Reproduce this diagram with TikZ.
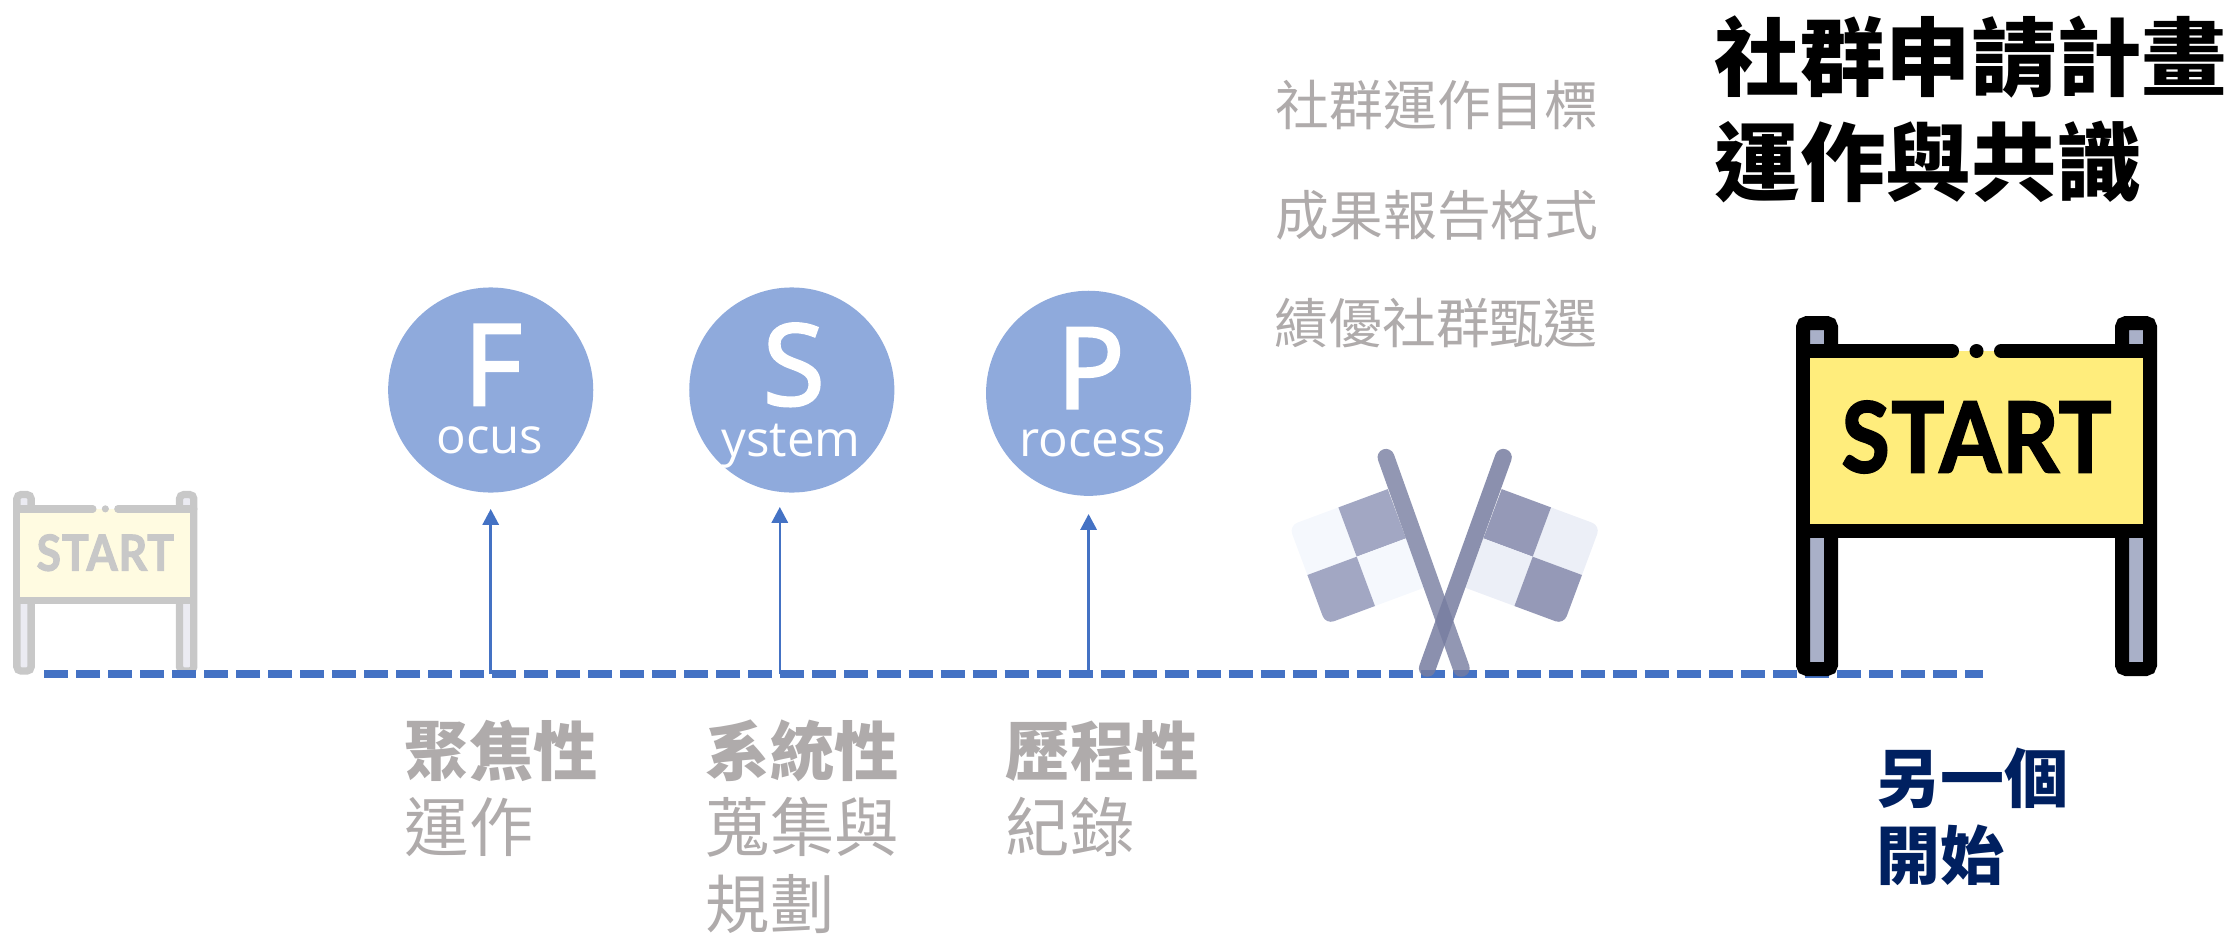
\documentclass[tikz,border=0pt]{standalone}
\usepackage{fontspec}
\usetikzlibrary{arrows.meta}
\setmainfont{Open Sans}
\newfontfamily\cjk{Noto Sans CJK TC}
\newfontfamily\signfont[LetterSpace=2,BoldFeatures={FakeBold=2.2}]{Lato}
\newfontfamily\letterfont[FakeBold=2.5]{Open Sans}

\definecolor{line_blue}{HTML}{4472C4}
\definecolor{circle_fill}{HTML}{8FAADC}
\definecolor{label_gray}{HTML}{AFABAB}
\definecolor{start_navy}{HTML}{002060}
\definecolor{pole_fill}{HTML}{777DA0}
\definecolor{sign_yellow}{HTML}{FFED7C}
\definecolor{sign_post}{HTML}{A9B0C8}
\definecolor{old_frame}{HTML}{C8C8C8}
\definecolor{old_yellow}{HTML}{FFFBE1}
\definecolor{old_post}{HTML}{EBEBF2}

\tikzset{
  grayitem/.style={anchor=west,inner sep=0pt,text=label_gray,font=\cjk\fontsize{15.3}{18}\selectfont},
  graylabel/.style={anchor=west,inner sep=0pt,text=label_gray,font=\cjk\fontsize{18.3}{22}\selectfont},
  graybold/.style={graylabel,font=\cjk\bfseries\fontsize{18.3}{22}\selectfont},
  titleline/.style={anchor=west,inner sep=0pt,font=\cjk\bfseries\fontsize{24.3}{29}\selectfont},
  navyline/.style={anchor=west,inner sep=0pt,text=start_navy,font=\cjk\bfseries\fontsize{18.2}{22}\selectfont},
  stembar/.style={line_blue,line width=0.7pt,-{Triangle[length=4.5pt,width=4.6pt]}},
  pics/signboard/.style n args={5}{code={
    \draw[line width=#4,#1,fill=#3,rounded corners=1.2pt] (7,7) rectangle (35,353);
    \draw[line width=#4,#1,fill=#3,rounded corners=1.2pt] (326,7) rectangle (354,353);
    \fill[#2] (14,35) rectangle (347,215);
    \draw[line width=#4,#1,line cap=round] (7,35) -- (156,35);
    \draw[line width=#4,#1,line cap=round] (205,35) -- (354,35);
    \fill[#1] (180.5,35) circle [radius=7];
    \draw[line width=#4,#1] (7,215) -- (354,215);
    \node[transform shape,xscale=0.9,inner sep=0pt,text=#1] (#5) at (180.5,121) {\signfont\bfseries\fontsize{27.7}{30}\selectfont START};
  }},
}

\begin{document}
\begin{tikzpicture}[x=0.01cm,y=-0.01cm]
\useasboundingbox (0,0) rectangle (2235,936);

% small board at the left end
\pic[scale=0.51] at (13.3,491) {signboard={old_frame}{old_yellow}{old_post}{0.73mm}{oldstart}};

% time line
\coordinate (line_start) at (44,674);
\coordinate (line_end) at (1983,674);
\draw[line_blue,line width=2.28pt,dash pattern=on 0.24cm off 0.08cm] (line_start) -- (line_end);

% circles and arrows
\foreach \name/\x/\y/\lett/\rest/\lx/\ly in {focus/490.7/390/F/ocus/490/453,system/791.8/390/S/ystem/791/456,process/1088.6/393.3/P/rocess/1093/456}{
\node[circle,fill=circle_fill,minimum size=2.05cm,inner sep=0pt] (\name) at (\x,\y) {};
\node[anchor=base,inner sep=0pt,text=white,font=\letterfont\fontsize{32}{36}\selectfont] (\name_big) at (\x+2,\y+15) {\lett};
\node[anchor=base,inner sep=0pt,text=white,font=\fontsize{14}{16}\selectfont] (\name_rest) at (\lx,\ly) {\rest};
}
\foreach \name/\x/\tip in {focus/490.7/509,system/779.8/507,process/1088.6/514}{
\coordinate (\name_base) at (\x,674);
\coordinate (\name_tip) at (\x,\tip);
\draw[stembar] (\name_base) -- (\name_tip);
}

% crossed flags
\begin{scope}[shift={(1444.7,556.7)}]
\foreach \side/\dark/\light in {1/A2A7C3/F5F8FD,-1/9599B7/ECEFF7}{
\begin{scope}[xscale=\side]
\definecolor{flagdark}{HTML}{\dark}
\definecolor{flaglight}{HTML}{\light}
\fill[flaglight] (-88,0) -- (-137.3,18.3) [rounded corners=2.5pt] -- (-155.6,-31) [sharp corners] -- (-106.3,-49.3) -- cycle;
\fill[flagdark] (-88,0) -- (-106.3,-49.3) -- (-57,-67.6) -- (-38.7,-18.3) -- cycle;
\fill[flaglight] (-88,0) -- (-38.7,-18.3) -- (-20.4,31) -- (-69.7,49.3) -- cycle;
\fill[flagdark] (-88,0) -- (-137.3,18.3) [rounded corners=2.5pt] -- (-119,67.6) [sharp corners] -- (-69.7,49.3) -- cycle;
\end{scope}
}
\draw[pole_fill,opacity=0.8,line width=4.8pt,line cap=round] (-58.7,-99.4) -- (16.6,111.6);
\draw[pole_fill,opacity=0.85,line width=4.8pt,line cap=round] (58.7,-99.4) -- (-17.4,111.6);
\end{scope}

% big board
\pic at (1796,316) {signboard={black}{sign_yellow}{sign_post}{1.4mm}{newstart}};

% title and list
\node[titleline] (title_one) at (1714,57) {社群申請計畫};
\node[titleline] (title_two) at (1714,162) {運作與共識};
\node[grayitem] (goal_one) at (1275,105) {社群運作目標};
\node[grayitem] (goal_two) at (1275,215) {成果報告格式};
\node[grayitem] (goal_three) at (1274,323) {績優社群甄選};

% labels under the line
\node[graybold] (focus_head) at (404,751) {聚焦性};
\node[graylabel] (focus_one) at (404,827) {運作};
\node[graybold] (system_head) at (705,751) {系統性};
\node[graylabel] (system_one) at (705,827) {蒐集與};
\node[graylabel] (system_two) at (705,904) {規劃};
\node[graybold] (process_head) at (1005,751) {歷程性};
\node[graylabel] (process_one) at (1005,827) {紀錄};
\node[navyline] (next_one) at (1876,778) {另一個};
\node[navyline] (next_two) at (1876,855) {開始};
\end{tikzpicture}
\end{document}
